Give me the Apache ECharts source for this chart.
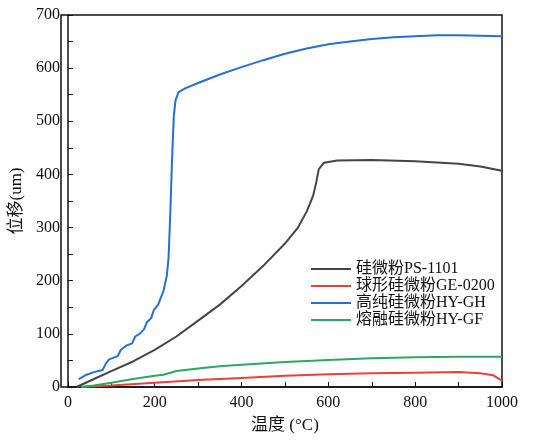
<!DOCTYPE html>
<html>
<head>
<meta charset="UTF-8">
<script src="https://cdn.jsdelivr.net/npm/echarts@6/dist/echarts.min.js"></script>
<style>html,body{margin:0;background:#fff}#c{width:550px;height:447px}</style>
</head>
<body>
<div id="c"></div>
<script>
var names = ['硅微粉PS-1101', '球形硅微粉GE-0200', '高纯硅微粉HY-GH', '熔融硅微粉HY-GF'];
var colors = ['#454545', '#e8413c', '#2470d8', '#2ba862'];
var ps1101 = [[20,0],[60,15],[100,30],[150,48],[200,70],[250,95],[300,125],[350,155],[400,190],[450,228],[500,270],[530,300],[550,330],[565,360],[572,385],[578,410],[590,422],[620,426],[700,427],[800,425],[900,420],[950,415],[1000,407]];
var ge0200 = [[30,0],[100,3],[200,8],[300,13],[400,17],[500,21],[600,24],[700,26],[800,27],[900,28],[950,26],[980,22],[1000,12]];
var hygh = [[25,15],[40,22],[60,28],[80,32],[88,45],[95,52],[115,58],[122,70],[135,78],[148,82],[155,95],[165,100],[175,108],[182,122],[192,130],[198,145],[208,155],[215,170],[220,180],[228,210],[232,245],[236,330],[240,430],[244,510],[248,540],[255,555],[270,562],[300,572],[350,588],[400,602],[450,615],[500,627],[550,637],[600,645],[650,650],[700,655],[750,658],[800,660],[850,662],[900,662],[950,661],[1000,660]];
var hygf = [[30,0],[60,3],[100,8],[150,15],[200,21],[220,23],[250,30],[300,35],[350,39],[400,42],[500,47],[600,51],[700,54],[800,56],[900,57],[1000,57]];
var seriesData = [ps1101, ge0200, hygh, hygf];

var chart = echarts.init(document.getElementById('c'));
var font = "'Liberation Serif', 'Noto Sans CJK SC', serif";
chart.setOption({
    animation: false,
    color: colors,
    grid: {left: 61, right: 48, top: 15, bottom: 60},
    legend: {
        orient: 'vertical', left: 306, top: 256, itemGap: 1,
        itemWidth: 40, itemHeight: 2, icon: 'rect',
        textStyle: {fontFamily: font, fontSize: 16, color: '#111'},
        data: names
    },
    xAxis: {
        type: 'value', min: 0, max: 1000, interval: 100,
        name: '温度 (°C)', nameLocation: 'middle', nameGap: 30,
        nameTextStyle: {fontFamily: font, fontSize: 17, color: '#111'},
        axisLine: {lineStyle: {color: '#111', width: 1.5}},
        axisTick: {inside: true, length: 5, lineStyle: {color: '#111'}},
        axisLabel: {fontFamily: font, fontSize: 16, color: '#111', formatter: function (v) { return v % 200 === 0 ? v : ''; }},
        splitLine: {show: false}
    },
    yAxis: {
        type: 'value', min: 0, max: 700, interval: 50,
        name: '位移(um)', nameLocation: 'middle', nameGap: 42,
        nameTextStyle: {fontFamily: font, fontSize: 17, color: '#111'},
        axisLine: {lineStyle: {color: '#111', width: 1.5}},
        axisTick: {inside: true, length: 5, lineStyle: {color: '#111'}},
        axisLabel: {fontFamily: font, fontSize: 16, color: '#111', formatter: function (v) { return v % 100 === 0 ? v : ''; }},
        splitLine: {show: false}
    },
    graphic: [{
        type: 'rect', shape: {x: 61, y: 15, width: 441, height: 372},
        style: {fill: 'none', stroke: '#111', lineWidth: 1.5}, silent: true
    }],
    series: seriesData.map(function (d, i) {
        return {name: names[i], type: 'line', data: d, showSymbol: false, lineStyle: {width: 2}};
    })
});
</script>
</body>
</html>
